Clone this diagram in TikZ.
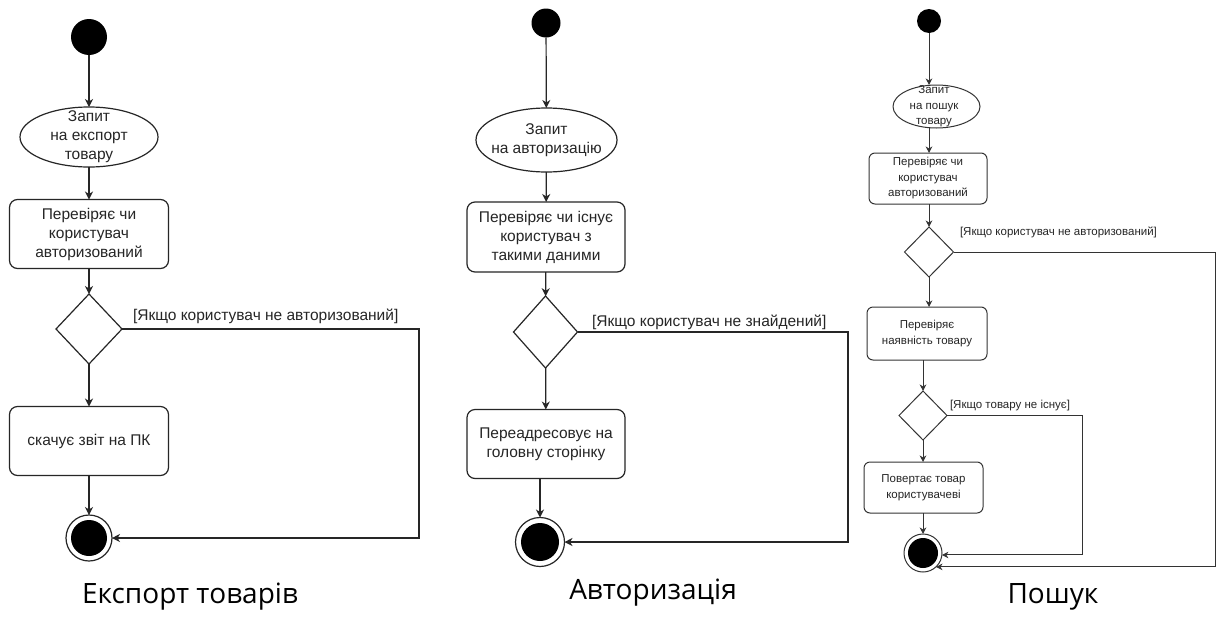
\documentclass[tikz,border=0pt]{standalone}
\usepackage{fontspec}
\setmainfont{Liberation Sans}
\newfontfamily\titlefont{Open Sans}
\usetikzlibrary{shapes.geometric,arrows.meta}
\begin{document}
\begin{tikzpicture}[x=1pt,y=-1pt,
  every node/.style={inner sep=0pt,outer sep=0pt},
  ln/.style={line width=1.2pt,draw=black!85},
  ln3/.style={line width=1pt,draw=black!80},
  arr/.style={ln,-{Stealth[length=8pt,width=8pt,inset=2.5pt]}},
  arr3/.style={ln3,-{Stealth[length=6.5pt,width=6.5pt,inset=2pt]}},
  startdot/.style={circle,fill=black},
  actbox/.style={draw,ln,rounded corners=8pt,align=center,text=black!85},
  actbox3/.style={draw,ln3,rounded corners=6pt,align=center,text=black!85},
  ellshape/.style={ellipse,draw,ln},
  decshape/.style={diamond,draw,ln},
  txtA/.style={align=center,text=black!85,font=\fontsize{15.5}{19}\selectfont},
  txtC/.style={align=center,text=black!85,font=\fontsize{11.5}{15.5}\selectfont},
  guardA/.style={anchor=west,text=black!85,font=\fontsize{15.5}{19}\selectfont},
  guardC/.style={anchor=west,text=black!85,font=\fontsize{11.5}{15}\selectfont},
  ttl/.style={font=\titlefont\fontsize{28}{32}\selectfont}
]
\useasboundingbox (0,0) rectangle (1225,616);
\fill[white] (0,0) rectangle (1225,616);

% ===== Diagram 1: Export =====
\node[startdot,minimum size=36pt] (s1) at (89,37) {};
\node[ellshape,minimum width=138pt,minimum height=60pt] (e1) at (89,137) {};
\node[txtA] (e1t) at (89,137) {Запит\\на експорт\\товару};
\node[actbox,minimum width=159pt,minimum height=69pt,font=\fontsize{15.5}{19}\selectfont] (r1a) at (89,234) {Перевіряє чи\\користувач\\авторизований};
\node[decshape,minimum width=66pt,minimum height=70pt] (d1) at (89,329) {};
\node[actbox,minimum width=159pt,minimum height=69pt,font=\fontsize{15.5}{19}\selectfont] (r1b) at (89,441) {скачує звіт на ПК};
\node[circle,draw,ln,minimum size=46pt] (f1) at (89,538) {};
\node[circle,fill=black,minimum size=36pt] (f1i) at (89,538) {};
\coordinate (c1) at (419,0);
\node[guardA] (g1) at (133,316) {[Якщо користувач не авторизований]};
\draw[arr] (s1) -- (e1);
\draw[arr] (e1) -- (r1a);
\draw[arr] (r1a) -- (d1);
\draw[arr] (d1) -- (r1b);
\draw[arr] (r1b) -- (f1);
\draw[arr] (d1.east) -- (d1.east -| c1) -- (c1 |- f1.east) -- (f1.east);
\node[ttl] (t1) at (190,597) {Експорт товарів};

% ===== Diagram 2: Authorization =====
\node[startdot,minimum size=29pt] (s2) at (546,23) {};
\node[ellshape,minimum width=141pt,minimum height=64pt] (e2) at (546.5,140) {};
\node[txtA] (e2t) at (546.5,140) {Запит\\на авторизацію};
\node[actbox,minimum width=158pt,minimum height=70pt,font=\fontsize{15.5}{19}\selectfont] (r2a) at (546,237) {Перевіряє чи існує\\користувач з\\такими даними};
\node[decshape,minimum width=64pt,minimum height=72pt] (d2) at (545.5,332) {};
\node[actbox,minimum width=158pt,minimum height=69pt,font=\fontsize{15.5}{19}\selectfont] (r2b) at (546,444) {Переадресовує на\\головну сторінку};
\node[circle,draw,ln,minimum size=49pt] (f2) at (540,542) {};
\node[circle,fill=black,minimum size=38pt] (f2i) at (540,542) {};
\coordinate (c2) at (848,0);
\node[guardA] (g2) at (592,322) {[Якщо користувач не знайдений]};
\draw[arr] (s2) -- (e2);
\draw[arr] (e2) -- (r2a);
\draw[arr] (r2a) -- (d2);
\draw[arr] (d2) -- (r2b);
\draw[arr] (r2b.south -| f2) -- (f2);
\draw[arr] (d2.east) -- (d2.east -| c2) -- (c2 |- f2.east) -- (f2.east);
\node[ttl] (t2) at (653,593) {Авторизація};

% ===== Diagram 3: Search =====
\node[startdot,minimum size=24pt] (s3) at (929,21) {};
\node[ellshape,ln3,minimum width=87pt,minimum height=43pt] (e3) at (936.5,106.5) {};
\node[txtC] (e3t) at (934,106.5) {Запит\\на пошук\\товару};
\node[actbox3,minimum width=118pt,minimum height=51pt,font=\fontsize{11.5}{15.5}\selectfont] (r3a) at (928,178.5) {Перевіряє чи\\користувач\\авторизований};
\node[decshape,ln3,minimum width=49pt,minimum height=50pt] (d3a) at (929,252) {};
\node[actbox3,minimum width=120pt,minimum height=53pt,font=\fontsize{11.5}{15.5}\selectfont] (r3b) at (927,333.5) {Перевіряє\\наявність товару};
\node[decshape,ln3,minimum width=48pt,minimum height=49pt] (d3b) at (923,415.5) {};
\node[actbox3,minimum width=119pt,minimum height=51pt,font=\fontsize{11.5}{15.5}\selectfont] (r3c) at (923.5,487.5) {Повертає товар\\користувачеві};
\node[circle,draw,ln3,minimum size=38pt] (f3) at (923,553) {};
\node[circle,fill=black,minimum size=30pt] (f3i) at (923,553) {};
\coordinate (c3a) at (1215,0);
\coordinate (c3b) at (1082,0);
\node[guardC] (g3a) at (960,232) {[Якщо користувач не авторизований]};
\node[guardC] (g3b) at (950,406) {[Якщо товару не існує]};
\draw[arr3] (s3) -- (e3.north -| s3);
\draw[arr3] (e3.south -| s3) -- (r3a.north -| s3);
\draw[arr3] (r3a.south -| d3a) -- (d3a);
\draw[arr3] (d3a) -- (r3b.north -| d3a);
\draw[arr3] (r3b.south -| d3b) -- (d3b);
\draw[arr3] (d3b) -- (r3c.north -| d3b);
\draw[arr3] (r3c.south -| f3) -- (f3);
\draw[arr3] (d3b.east) -- (d3b.east -| c3b) -- (c3b |- f3.-6) -- (f3.-6);
\draw[arr3] (d3a.east) -- (d3a.east -| c3a) -- (c3a |- f3.-47) -- (f3.-47);
\node[ttl] (t3) at (1053,597) {Пошук};
\end{tikzpicture}
\end{document}
